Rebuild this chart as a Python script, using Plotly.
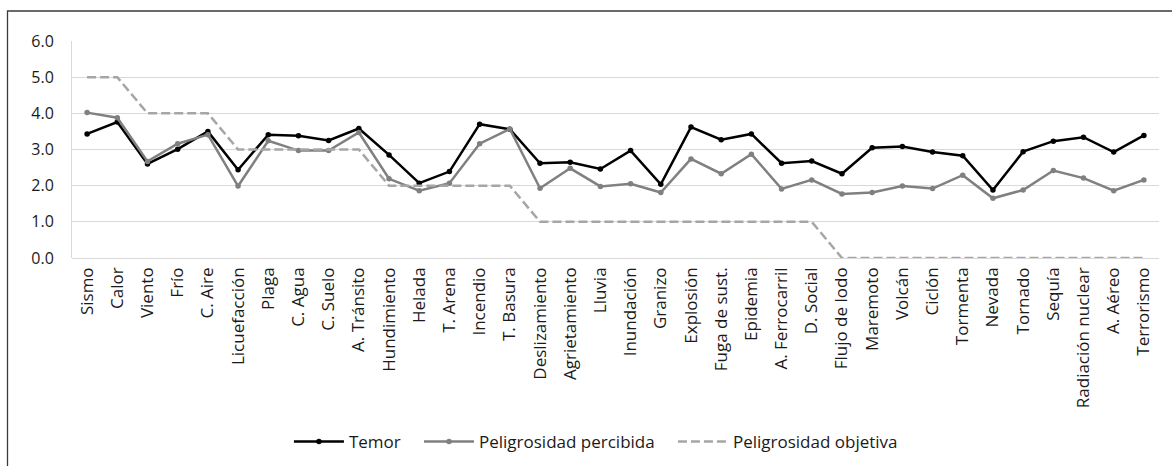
import plotly.graph_objects as go

categorias = ["Sismo", "Calor", "Viento", "Frío", "C. Aire", "Licuefacción", "Plaga", "C. Agua",
              "C. Suelo", "A. Tránsito", "Hundimiento", "Helada", "T. Arena", "Incendio", "T. Basura",
              "Deslizamiento", "Agrietamiento", "Lluvia", "Inundación", "Granizo", "Explosión",
              "Fuga de sust.", "Epidemia", "A. Ferrocarril", "D. Social", "Flujo de lodo", "Maremoto",
              "Volcán", "Ciclón", "Tormenta", "Nevada", "Tornado", "Sequía", "Radiación nuclear",
              "A. Aéreo", "Terrorismo"]

temor = [3.43, 3.76, 2.60, 3.01, 3.50, 2.44, 3.41, 3.38, 3.25, 3.58, 2.85, 2.07, 2.39, 3.70, 3.56,
         2.62, 2.65, 2.46, 2.97, 2.04, 3.62, 3.27, 3.43, 2.62, 2.68, 2.33, 3.05, 3.08, 2.93, 2.83,
         1.88, 2.94, 3.23, 3.34, 2.93, 3.39]

percibida = [4.02, 3.88, 2.67, 3.16, 3.41, 1.99, 3.24, 2.97, 2.97, 3.47, 2.19, 1.86, 2.07, 3.16, 3.57,
             1.93, 2.48, 1.98, 2.05, 1.81, 2.74, 2.33, 2.87, 1.91, 2.16, 1.77, 1.81, 1.99, 1.92, 2.29,
             1.65, 1.88, 2.42, 2.21, 1.86, 2.16]

objetiva = [5, 5, 4, 4, 4, 3, 3, 3, 3, 3, 2, 2, 2, 2, 2, 1, 1, 1, 1, 1, 1, 1, 1, 1, 1,
            0, 0, 0, 0, 0, 0, 0, 0, 0, 0, 0]

FONT = "Open Sans"
TXT = "#1a1a1a"
PAD = "\u00a0\u00a0\u00a0"

fig = go.Figure()
fig.add_trace(go.Scatter(x=categorias, y=temor, name="Temor" + PAD, mode="lines+markers",
                         line=dict(color="#000000", width=2.5),
                         marker=dict(color="#000000", size=5.5)))
fig.add_trace(go.Scatter(x=categorias, y=percibida, name="Peligrosidad percibida" + PAD, mode="lines+markers",
                         line=dict(color="#808080", width=2.5),
                         marker=dict(color="#808080", size=5.5)))
fig.add_trace(go.Scatter(x=categorias, y=objetiva, name="Peligrosidad objetiva", mode="lines",
                         line=dict(color="#a6a6a6", width=2.5, dash="9px,4px")))

L, R, T, B = 72, 13, 41, 208
W, H = 1172, 466
pw, ph = W - L - R, H - T - B

fig.update_layout(
    width=W, height=H,
    margin=dict(l=L, r=R, t=T, b=B, autoexpand=False),
    paper_bgcolor="white", plot_bgcolor="white",
    font=dict(family=FONT, color=TXT, size=16),
    showlegend=True,
    legend=dict(orientation="h", x=0.482, xanchor="center", y=(T + ph - 442) / ph, yanchor="middle",
                font=dict(size=17, family=FONT, color=TXT), itemwidth=50,
                bgcolor="rgba(0,0,0,0)"),
    xaxis=dict(type="category", range=[-0.5, len(categorias) - 0.5], tickangle=-90,
               showgrid=False, showline=False, ticks="", zeroline=False, ticklabelstandoff=5,
               tickfont=dict(size=17, family=FONT, color=TXT), fixedrange=True),
    yaxis=dict(range=[0, 6], dtick=1, tickformat=".1f", showgrid=True, gridcolor="#d9d9d9",
               gridwidth=1, showline=True, linecolor="#d9d9d9", linewidth=1, zeroline=True,
               zerolinecolor="#d9d9d9", zerolinewidth=1, ticks="", ticklen=0,
               ticklabelstandoff=14,
               tickfont=dict(size=16, family=FONT, color=TXT), fixedrange=True),
)

# outer frame (top and left visible)
x0 = (7.5 - L) / pw
x1 = (W + 5 - L) / pw
y1 = (T + ph - 11) / ph
y0 = (T + ph - (H + 5)) / ph
fig.add_shape(type="rect", xref="paper", yref="paper", x0=x0, x1=x1, y0=y0, y1=y1,
              line=dict(color="#3a3a3a", width=1.3), layer="below")

fig.write_html("out.html", config={"displayModeBar": False},
               post_script="document.body.style.margin='0';document.body.style.overflow='hidden';")
